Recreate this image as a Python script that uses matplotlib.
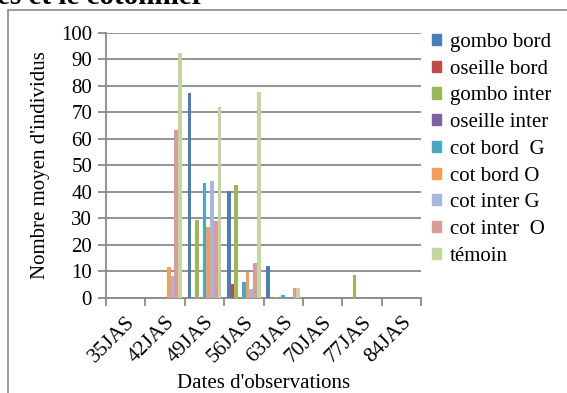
import numpy as np
import matplotlib.pyplot as plt
from matplotlib.patches import Rectangle

plt.rcParams['font.family'] = ['Liberation Serif', 'DejaVu Serif']

dates = ["35JAS", "42JAS", "49JAS", "56JAS", "63JAS", "70JAS", "77JAS", "84JAS"]

series_names = ["gombo bord", "oseille bord", "gombo inter", "oseille inter",
                "cot bord  G", "cot bord O", "cot inter G", "cot inter  O", "témoin"]

gombo_bord    = [0, 0, 77.2, 40.1, 12.1, 0, 0, 0]
oseille_bord  = [0, 0, 0, 5.2, 0, 0, 0, 0]
gombo_inter   = [0, 0, 29.2, 42.5, 0.3, 0, 8.7, 0]
oseille_inter = [0, 0, 0, 0, 0, 0, 0, 0]
cot_bord_g    = [0, 0, 43.2, 6.0, 1.0, 0, 0, 0]
cot_bord_o    = [0, 11.5, 26.7, 9.7, 0, 0, 0, 0]
cot_inter_g   = [0, 8.1, 44.0, 3.2, 0, 0, 0, 0]
cot_inter_o   = [0, 63.3, 28.8, 13.0, 3.8, 0, 0, 0]
temoin        = [0, 92.2, 72.1, 77.6, 3.8, 0, 0, 0]

all_series = [gombo_bord, oseille_bord, gombo_inter, oseille_inter,
              cot_bord_g, cot_bord_o, cot_inter_g, cot_inter_o, temoin]

colors = ["#4A7EBB", "#BE4B48", "#98B954", "#7D60A0", "#46AAC5",
          "#F59D56", "#A5B8DB", "#DB9B99", "#C3D69B"]

W, H = 567, 393
fig = plt.figure(figsize=(W / 100, H / 100), dpi=100)

# chart frame and the heading line above it
fig.patches.append(Rectangle((8 / W, -0.1), 1.2, (H - 10) / H + 0.1,
                             transform=fig.transFigure, fill=False,
                             edgecolor="#8a8a8a", linewidth=1.2))
fig.text(-3 / W, 1 - 4.5 / H, "es et le cotonnier", fontsize=21, fontweight="bold",
         ha="left", va="baseline")

ax = fig.add_axes([106 / W, (H - 297.7) / H, 315 / W, 265 / H])

x = np.arange(len(dates))
n = len(all_series)
w = 1 / 10.5
for i, (vals, name, c) in enumerate(zip(all_series, series_names, colors)):
    ax.bar(x + (i - (n - 1) / 2) * w, vals, width=w, color=c, label=name,
           linewidth=0, zorder=3)

ax.set_xlim(-0.5, len(dates) - 0.5)
ax.set_ylim(0, 100)
ax.set_yticks(np.arange(0, 101, 10))
ax.yaxis.grid(True, color="#8a8a8a", linewidth=1.3, zorder=1)
ax.set_axisbelow(True)

for s in ["top", "right"]:
    ax.spines[s].set_visible(False)
for s in ["left", "bottom"]:
    ax.spines[s].set_color("#8a8a8a")
    ax.spines[s].set_linewidth(1.3)

ax.set_xticks(x)
ax.set_xticklabels(dates, rotation=45, ha="right", va="top",
                   rotation_mode="anchor", fontsize=15.5)
ax.set_xticks(np.arange(-0.5, len(dates)), minor=True)
ax.tick_params(axis="x", which="major", length=0, pad=11)
ax.tick_params(axis="x", which="minor", length=6, color="#8a8a8a", width=1.3)
ax.tick_params(axis="y", length=6, color="#8a8a8a", width=1.3, labelsize=15, pad=4)

ax.set_ylabel("Nombre moyen d'individus", fontsize=15, labelpad=8)
ax.set_xlabel("Dates d'observations", fontsize=15, labelpad=5)

handles = [Rectangle((0, 0), 1, 1, color=c) for c in colors]
ax.legend(handles, series_names, loc="upper left", bbox_to_anchor=(432 / W, 1 - 33 / H),
          bbox_transform=fig.transFigure, frameon=False, fontsize=15,
          handlelength=0.45, handleheight=0.45, handletextpad=0.4,
          labelspacing=0.37, borderpad=0, borderaxespad=0)

fig.savefig("out.png", dpi=100)
